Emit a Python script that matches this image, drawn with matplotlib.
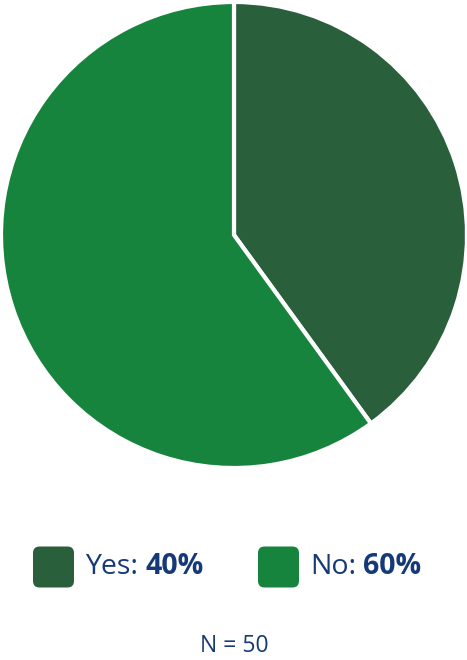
import matplotlib
matplotlib.use("Agg")
import matplotlib.pyplot as plt
from matplotlib.patches import FancyBboxPatch

labels = ["Yes", "No"]
shares = [40, 60]
colors = ["#2a5f3b", "#17843d"]
n_total = 50
text_color = "#163a78"

plt.rcParams['font.family'] = ['Open Sans', 'DejaVu Sans']

W, H = 467, 660
fig = plt.figure(figsize=(W / 100, H / 100), dpi=100)

# pie centred at (234, 235) px from top, radius ~233 px
cx, cy, r = 234, 235, 233
ax = fig.add_axes([(cx - r) / W, (H - cy - r) / H, 2 * r / W, 2 * r / H])
ax.pie(shares, colors=colors, startangle=90, counterclock=False,
       wedgeprops=dict(edgecolor="white", linewidth=3))
ax.set_xlim(-1, 1)
ax.set_ylim(-1, 1)
ax.set_aspect("equal")

# legend: rounded swatches with "Label: NN%" text
fig.canvas.draw()
renderer = fig.canvas.get_renderer()
sw_x = [33, 258]
sw_size = 41
leg_y = 567
for x0, lab, val, col in zip(sw_x, labels, shares, colors):
    box = FancyBboxPatch(((x0) / W, (H - leg_y - sw_size / 2) / H),
                         sw_size / W, sw_size / H,
                         boxstyle="round,pad=0,rounding_size=0.014",
                         transform=fig.transFigure, facecolor=col,
                         edgecolor="none", mutation_aspect=W / H)
    fig.patches.append(box)
    t1 = fig.text((x0 + 52) / W, (H - leg_y) / H, f"{lab}:", fontsize=20.5,
                  color=text_color, va="center", ha="left")
    bb = t1.get_window_extent(renderer)
    fig.text((bb.x1 + 7) / W, (H - leg_y) / H, f"{val}%", fontsize=20.5,
             fontweight="bold", color=text_color, va="center", ha="left")

fig.text(cx / W, (H - 646) / H, f"N = {n_total}", fontsize=16.5,
         color=text_color, va="center", ha="center")

fig.savefig("out.png", dpi=100, facecolor="white")
